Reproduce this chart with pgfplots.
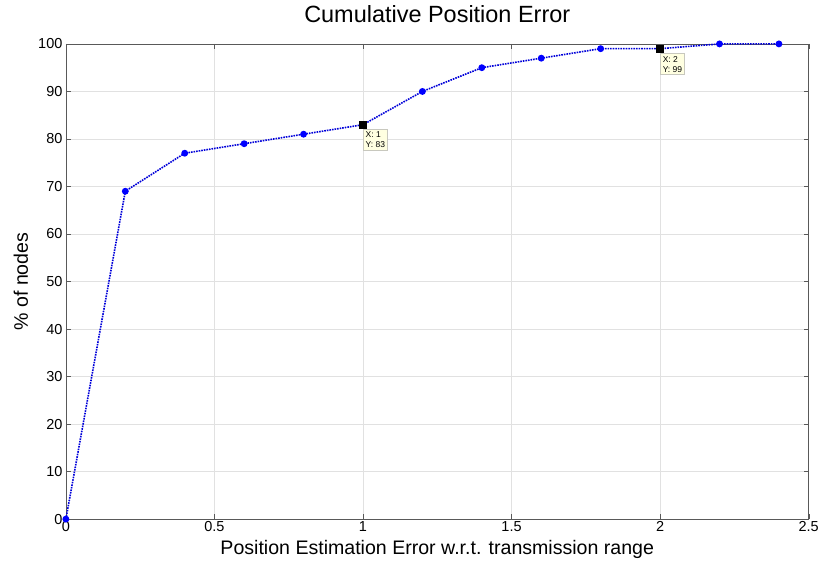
\documentclass[border=0pt]{standalone}
\usepackage{pgfplots}
\pgfplotsset{compat=1.18}
\usepackage{fontspec}
\setmainfont{Liberation Sans}

\definecolor{tipfill}{RGB}{255,255,225}
\definecolor{tipborder}{RGB}{200,200,190}
\definecolor{gridgray}{RGB}{225,225,225}

\begin{document}
\begin{tikzpicture}
  \begin{axis}[
      scale only axis,
      width=744pt,
      height=476pt,
      xmin=0, xmax=2.5,
      ymin=0, ymax=100,
      xtick={0,0.5,1,1.5,2,2.5},
      ytick={0,10,...,100},
      xticklabels={0,0.5,1,1.5,2,2.5},
      tick align=inside,
      major tick length=5pt,
      grid=major,
      major grid style={gridgray, line width=0.6pt},
      axis line style={gray!70!black, line width=0.6pt},
      tick style={gray!70!black},
      /pgf/number format/assume math mode=true,
      tick label style={font=\fontsize{14.5}{16}\selectfont},
      xticklabel style={yshift=1pt},
      title={Cumulative Position Error},
      title style={font=\fontsize{23.5}{26}\selectfont,
                   at={(axis description cs:0.5,1.0504)}, anchor=center},
      xlabel={Position Estimation Error w.r.t. transmission range},
      ylabel={\% of nodes},
      xlabel style={font=\fontsize{19.6}{22}\selectfont,
                    at={(axis description cs:0.5,-0.063)}, anchor=center},
      ylabel style={font=\fontsize{19.6}{22}\selectfont,
                    at={(axis description cs:-0.0605,0.5)}, anchor=center},
      clip=false,
    ]
    \addplot[blue!85!black, densely dotted, line width=1.6pt,
             mark=*, mark size=2.6pt, mark options={solid, fill=blue, draw=blue}]
      coordinates {
        (0,0) (0.2,69) (0.4,77) (0.6,79) (0.8,81) (1.0,83) (1.2,90)
        (1.4,95) (1.6,97) (1.8,99) (2.0,99) (2.2,100) (2.4,100)
      };
    \addplot[only marks, mark=square*, mark size=3.5pt, black]
      coordinates { (1.0,83) (2.0,99) };
    \node[draw=tipborder, fill=tipfill, anchor=north west, align=left,
          font=\fontsize{8.5}{10}\selectfont, inner sep=2.5pt]
      at (axis cs:1.0,82) {X: 1\\Y: 83};
    \node[draw=tipborder, fill=tipfill, anchor=north west, align=left,
          font=\fontsize{8.5}{10}\selectfont, inner sep=2.5pt]
      at (axis cs:2.0,98) {X: 2\\Y: 99};
    % page margins as in the reference
    \path (rel axis cs:0,0) ++(-66pt,-42pt);
    \path (rel axis cs:1,1) ++(12pt,44pt);
  \end{axis}
\end{tikzpicture}
\end{document}
